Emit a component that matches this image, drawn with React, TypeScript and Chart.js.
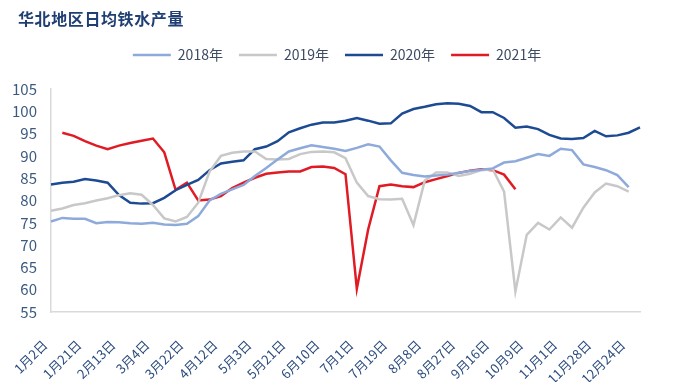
import React, { useEffect, useRef } from "react";
import { Chart, registerables } from "chart.js";

Chart.register(...registerables);

const titleText = "华北地区日均铁水产量";

const tickLabels = [
  "1月2日", "1月21日", "2月13日", "3月4日", "3月22日", "4月12日", "5月3日", "5月21日", "6月10日",
  "7月1日", "7月19日", "8月8日", "8月27日", "9月16日", "10月9日", "11月1日", "11月28日", "12月24日",
];
const pointsPerLabel = 3;
const pointCount = 53;

const seriesNames = ["2018年", "2019年", "2020年", "2021年"];
const seriesColors = ["#8eaadb", "#c8c8c8", "#1d4b93", "#e01b24"];

const values2018: (number | null)[] = [
  75.3, 76.1, 75.9, 75.9, 74.9, 75.2, 75.1, 74.9, 74.8, 75.0,
  74.6, 74.5, 74.8, 76.5, 80.0, 81.5, 82.5, 83.5, 85.5, 87.3,
  89.2, 91.0, 91.7, 92.4, 92.0, 91.6, 91.1, 91.8, 92.6, 92.1,
  89.0, 86.2, 85.7, 85.4, 85.6, 85.8, 86.2, 86.6, 86.9, 87.2,
  88.5, 88.8, 89.6, 90.4, 90.0, 91.6, 91.3, 88.1, 87.5, 86.8,
  85.7, 83.0, null,
];

const values2019: (number | null)[] = [
  77.7, 78.2, 79.0, 79.4, 80.0, 80.5, 81.2, 81.6, 81.3, 79.0,
  76.0, 75.3, 76.3, 79.5, 86.5, 90.0, 90.7, 91.0, 91.0, 89.3,
  89.2, 89.3, 90.4, 90.9, 91.0, 90.8, 89.5, 84.0, 81.0, 80.3,
  80.2, 80.4, 74.5, 84.5, 86.3, 86.3, 85.5, 86.0, 86.8, 87.0,
  82.0, 59.6, 72.3, 75.0, 73.5, 76.2, 73.9, 78.4, 81.8, 83.8,
  83.2, 82.0, null,
];

const values2020: (number | null)[] = [
  83.6, 84.0, 84.2, 84.8, 84.5, 84.0, 81.2, 79.5, 79.3, 79.4,
  80.6, 82.3, 83.5, 84.6, 86.8, 88.3, 88.7, 89.0, 91.5, 92.1,
  93.3, 95.3, 96.2, 97.0, 97.5, 97.5, 97.9, 98.5, 97.9, 97.2,
  97.3, 99.5, 100.5, 101.0, 101.6, 101.8, 101.7, 101.2, 99.8, 99.8,
  98.5, 96.3, 96.6, 96.0, 94.7, 93.9, 93.8, 94.0, 95.6, 94.4,
  94.6, 95.2, 96.4,
];

const values2021: (number | null)[] = [
  null, 95.2, 94.5, 93.3, 92.3, 91.5, 92.3, 92.9, 93.4, 93.9,
  90.8, 82.4, 84.0, 80.0, 80.2, 81.0, 82.8, 84.0, 85.1, 86.0,
  86.3, 86.5, 86.5, 87.5, 87.6, 87.3, 85.9, 60.2, 73.5, 83.2,
  83.6, 83.2, 83.0, 84.1, 84.8, 85.5, 86.2, 86.7, 87.0, 86.8,
  85.8, 82.5,
];

const yMin = 55;
const yMax = 105;
const yStep = 5;

const categories: string[] = Array.from({ length: pointCount }, (_, i) =>
  i % pointsPerLabel === 0 && tickLabels[i / pointsPerLabel] !== undefined ? tickLabels[i / pointsPerLabel] : ""
);

const allValues = [values2018, values2019, values2020, values2021];

const FONT = "'Noto Sans CJK SC', 'Noto Sans', sans-serif";

const legendTweak = {
  id: "legendTweak",
  beforeInit(chart: any) {
    const orig = chart.legend.fit;
    chart.legend.fit = function fit() {
      orig.call(this);
      this.height += 17;
    };
  },
  afterLayout(chart: any) {
    chart.legend.left += 11;
    chart.legend.right += 11;
  },
};

export default function App() {
  const canvasRef = useRef<HTMLCanvasElement | null>(null);

  useEffect(() => {
    if (!canvasRef.current) return;
    const chart = new Chart(canvasRef.current, {
      type: "line",
      data: {
        labels: categories,
        datasets: seriesNames.map((name, k) => ({
          label: name,
          data: allValues[k],
          borderColor: seriesColors[k],
          backgroundColor: seriesColors[k],
          borderWidth: 2.5,
          pointRadius: 0,
          pointHoverRadius: 0,
          tension: 0,
          fill: false,
          spanGaps: false,
        })),
      },
      plugins: [legendTweak],
      options: {
        animation: false,
        responsive: false,
        maintainAspectRatio: false,
        layout: { padding: { top: 32, left: 12, right: 39, bottom: 0 } },
        plugins: {
          title: { display: false },
          tooltip: { enabled: false },
          legend: {
            display: true,
            position: "top",
            align: "center",
            labels: {
              usePointStyle: true,
              pointStyle: "line",
              pointStyleWidth: 38,
              boxHeight: 14,
              padding: 16,
              color: "#3d4b63",
              font: { family: FONT, size: 14 },
            },
          },
        },
        scales: {
          x: {
            type: "category",
            offset: false,
            grid: { display: false, drawTicks: false },
            border: { display: true, color: "#d9d9d9", width: 1.5 },
            afterFit(scale: any) {
              scale.paddingLeft = 0;
              scale.height = 70;
            },
            ticks: {
              autoSkip: false,
              minRotation: 45,
              maxRotation: 45,
              padding: 25,
              labelOffset: -6,
              color: "#2b4c7e",
              font: { family: FONT, size: 13 },
            },
          },
          y: {
            min: yMin,
            max: yMax,
            grid: { display: false, drawTicks: false },
            border: { display: true, color: "#d9d9d9", width: 1.5 },
            afterFit(scale: any) {
              scale.width = 39;
            },
            ticks: {
              autoSkip: false,
              stepSize: yStep,
              padding: 14,
              color: "#3b5a80",
              font: { family: FONT, size: 15 },
            },
          },
        },
      },
    });
    return () => chart.destroy();
  }, []);

  return (
    <div style={{ position: "fixed", left: 0, top: 0, width: 679, height: 382, background: "#fff" }}>
      <canvas ref={canvasRef} width={679} height={382} style={{ display: "block" }} />
      <div
        style={{
          position: "absolute",
          left: 18,
          top: 9,
          fontFamily: FONT,
          fontWeight: 700,
          fontSize: 16,
          letterSpacing: "0.6px",
          lineHeight: "18px",
          color: "#1f3f74",
          whiteSpace: "nowrap",
        }}
      >
        {titleText}
      </div>
    </div>
  );
}
